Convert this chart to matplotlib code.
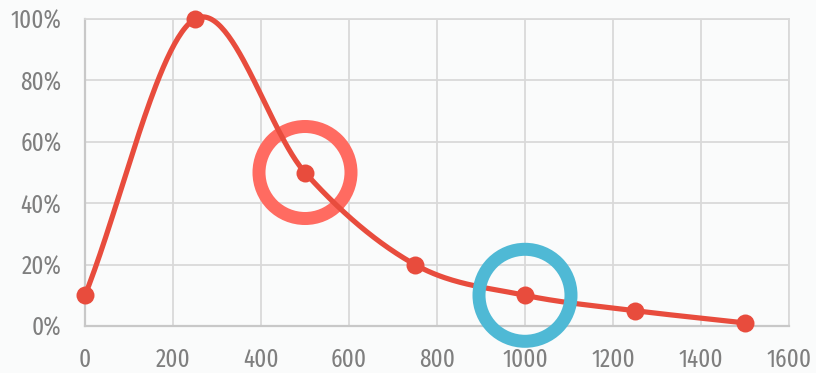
import numpy as np
import matplotlib
matplotlib.use("Agg")
import matplotlib.pyplot as plt
from matplotlib import font_manager

x_vals = [0, 250, 500, 750, 1000, 1250, 1500]
y_vals = [10, 100, 50, 20, 10, 5, 1]
x_ticks = [0, 200, 400, 600, 800, 1000, 1200, 1400, 1600]
y_ticks = [0, 20, 40, 60, 80, 100]
highlight_salmon = (500, 50)
highlight_blue = (1000, 10)

installed = {f.name for f in font_manager.fontManager.ttflist}
family = "DejaVu Sans"
for cand in ["Fira Sans Extra Condensed", "PT Sans Narrow", "Roboto Condensed",
             "Open Sans Condensed", "Liberation Sans Narrow"]:
    if cand in installed:
        family = cand
        break


def catmull_rom(xs, ys, n=60):
    xs = np.asarray(xs, float)
    ys = np.asarray(ys, float)
    px = np.concatenate([[2 * xs[0] - xs[1]], xs, [2 * xs[-1] - xs[-2]]])
    py = np.concatenate([[2 * ys[0] - ys[1]], ys, [2 * ys[-1] - ys[-2]]])
    out_x, out_y = [], []
    t = np.linspace(0, 1, n)
    for i in range(1, len(px) - 2):
        for p, o in ((px, out_x), (py, out_y)):
            p0, p1, p2, p3 = p[i - 1], p[i], p[i + 1], p[i + 2]
            o.extend(0.5 * ((2 * p1) + (-p0 + p2) * t
                            + (2 * p0 - 5 * p1 + 4 * p2 - p3) * t ** 2
                            + (-p0 + 3 * p1 - 3 * p2 + p3) * t ** 3))
    return np.array(out_x), np.array(out_y)


W, H = 816, 373
fig = plt.figure(figsize=(W / 100, H / 100), dpi=100)
fig.patch.set_facecolor("#fafbfb")
ax = fig.add_axes([85 / W, (H - 326) / H, (789 - 85) / W, (326 - 19) / H])
ax.set_facecolor("#fafbfb")

ax.set_xlim(0, 1600)
ax.set_ylim(0, 100)
ax.set_xticks(x_ticks)
ax.set_yticks(y_ticks)
ax.set_xticklabels([str(v) for v in x_ticks])
ax.set_yticklabels([f"{v}%" for v in y_ticks])
ax.grid(True, color="#d9d9d9", linewidth=1.3)
ax.set_axisbelow(True)
for side in ["top", "right"]:
    ax.spines[side].set_color("#d9d9d9")
    ax.spines[side].set_linewidth(1.3)
for side in ["left", "bottom"]:
    ax.spines[side].set_color("#c8c8c8")
    ax.spines[side].set_linewidth(1.6)
ax.tick_params(length=0, labelsize=18, labelcolor="#7f7f7f")
ax.tick_params(axis="x", pad=15)
ax.tick_params(axis="y", pad=17)
for lab in ax.get_xticklabels() + ax.get_yticklabels():
    lab.set_family(family)

ring_s = (92 * 0.72) ** 2
ring_lw = 13 * 0.72

ax.scatter([highlight_salmon[0]], [highlight_salmon[1]], s=ring_s, facecolors="none",
           edgecolors="#ff6b61", linewidths=ring_lw, zorder=2, clip_on=False)

sx, sy = catmull_rom(x_vals, y_vals)
ax.plot(sx, sy, color="#e84c3d", linewidth=4 * 0.72 * 1.3, zorder=3, clip_on=False,
        solid_capstyle="round")
ax.scatter(x_vals, y_vals, s=(18 * 0.72) ** 2, color="#e84c3d", zorder=4, clip_on=False,
           linewidths=0)

ax.scatter([highlight_blue[0]], [highlight_blue[1]], s=ring_s, facecolors="none",
           edgecolors="#4fb9d5", linewidths=ring_lw, zorder=5, clip_on=False)

fig.savefig("out.png", dpi=100, facecolor=fig.get_facecolor())
